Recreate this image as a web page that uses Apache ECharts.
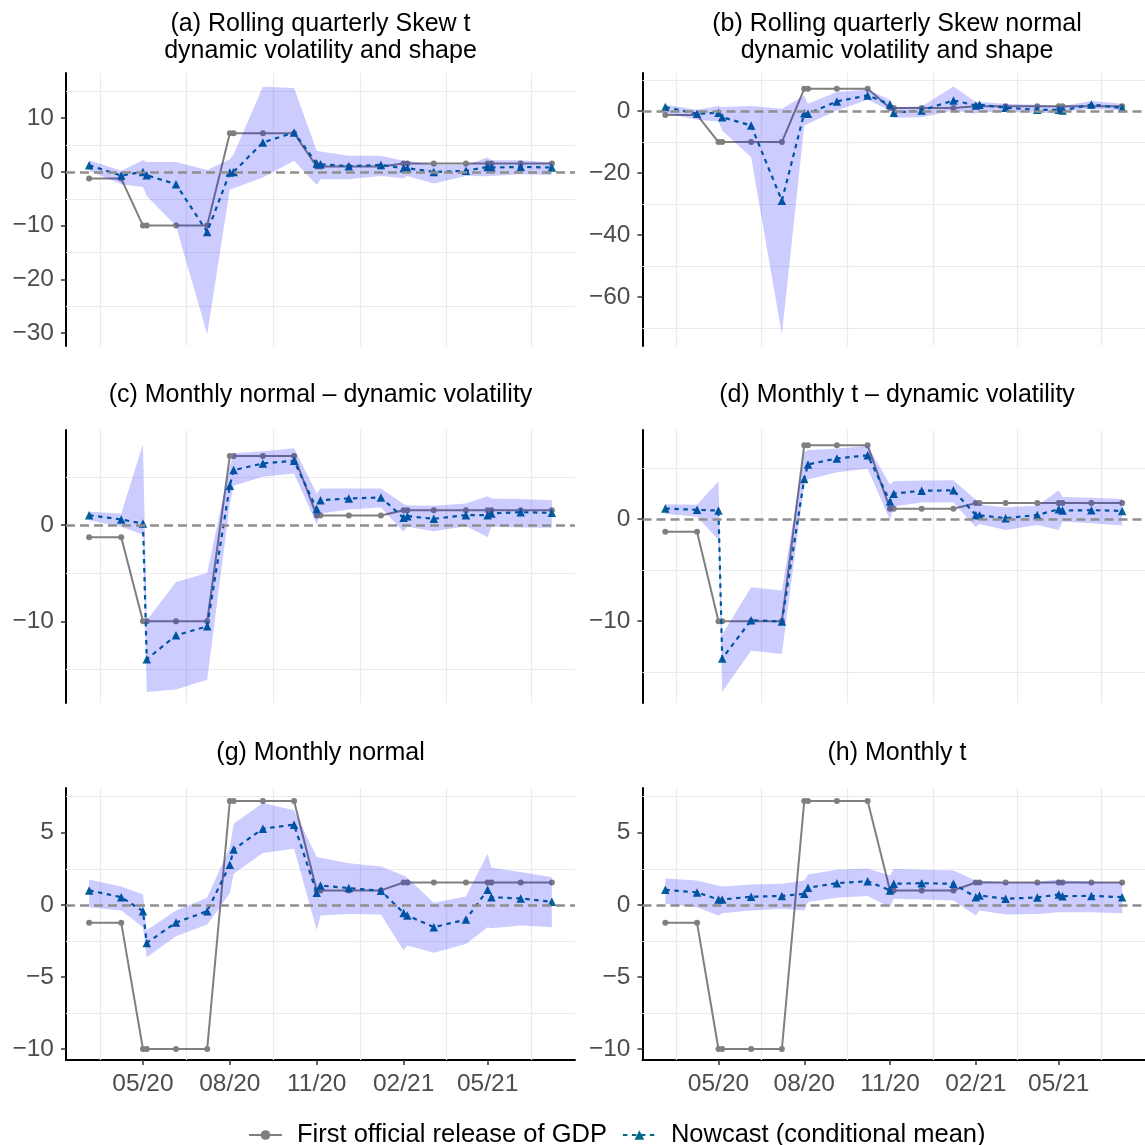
<!DOCTYPE html>
<html><head><meta charset="utf-8">
<script src="https://cdn.jsdelivr.net/npm/echarts@6/dist/echarts.min.js"></script>
<style>html,body{margin:0;padding:0;background:#fff}#c{width:1145px;height:1145px}</style>
</head><body><div id="c"></div>
<script>
// ---------- DATA ----------
const dates = ['2020-03-05','2020-04-08','2020-05-01','2020-05-05','2020-06-05','2020-07-08',
  '2020-08-01','2020-08-05','2020-09-05','2020-10-08','2020-11-01','2020-11-05','2020-12-05','2021-01-08',
  '2021-02-01','2021-02-05','2021-03-05','2021-04-08','2021-05-01','2021-05-05','2021-06-05','2021-07-08'];

const gdp = [-1.25,-1.25,-10,-10,-10,-10,7.2,7.2,7.2,7.2,1.0,1.0,1.0,1.0,1.55,1.55,1.55,1.55,1.55,1.55,1.55,1.55];

const A_mean  = [1.24,-0.68,0.0,-0.62,-2.3,-11.18,-0.12,0.0,5.47,7.33,1.55,1.43,1.06,1.3,0.68,0.68,0.0,0.19,0.93,0.81,0.93,0.81];
const A_lower = [0.19,-2.3,-2.8,-4.47,-10.06,-30.2,-3.23,-3.04,-1.06,2.05,-2.42,-1.37,-1.37,-0.75,-1.18,-0.75,-2.17,-0.75,-0.81,-0.75,-0.43,-0.56];
const A_upper = [2.17,0.19,2.17,1.86,1.86,0.37,2.36,3.3,15.84,15.6,3.91,3.79,2.98,2.98,2.05,2.05,1.3,1.3,2.67,2.17,2.17,1.74];

const B_mean  = [1.29,-0.86,-0.54,-1.94,-4.64,-28.9,-0.65,-0.86,3.13,5.07,2.16,-0.54,0.22,3.45,1.83,2.05,1.08,0.43,0.43,0.22,2.16,0.97];
const B_lower = [-0.65,-2.8,-3.34,-6.26,-14.9,-72.1,-4.64,-4.1,0.22,3.67,0.22,-2.16,-1.94,0.22,-0.86,-0.32,-0.32,-0.54,-0.65,-0.32,0.76,0.22];
const B_upper = [2.05,0.43,1.62,1.29,1.62,0.76,5.07,2.37,6.15,7.01,3.67,1.29,1.51,7.98,2.91,2.91,2.37,2.05,1.62,1.62,3.24,2.37];

const C_mean  = [1.04,0.59,0.17,-13.96,-11.46,-10.52,4.10,5.73,6.42,6.70,1.67,2.60,2.78,2.88,0.76,0.94,0.66,1.04,1.04,1.22,1.35,1.28];
const C_lower = [0.52,-0.17,-1.0,-17.36,-17.1,-16.08,2.2,4.1,5.03,5.38,0.1,1.22,1.63,1.84,-0.69,-0.17,-0.63,-0.1,-1.22,-0.17,-0.24,-0.28];
const C_upper = [1.39,1.22,8.44,-9.9,-5.9,-4.97,6.2,7.47,7.7,7.99,3.3,3.82,3.82,3.82,2.19,2.08,2.01,2.26,3.02,2.78,2.71,2.6];

const D_mean  = [1.02,0.89,0.82,-13.65,-9.9,-10.03,3.91,5.33,5.92,6.22,1.71,2.47,2.76,2.8,0.39,0.36,0.07,0.39,0.95,0.82,0.86,0.79];
const D_lower = [0.49,0.23,-2.07,-16.9,-12.9,-13.2,3.5,3.85,4.57,4.9,-0.1,1.22,1.61,1.61,-0.82,-0.49,-1.09,-0.59,-1.09,-0.26,-0.43,-0.63];
const D_upper = [1.45,1.38,3.68,-11.3,-6.68,-7.0,6.5,6.74,6.88,7.14,3.36,3.68,3.75,3.78,1.88,1.38,1.15,1.28,2.8,2.14,2.07,1.94];

const G_mean  = [1.0,0.53,-0.44,-2.64,-1.23,-0.44,2.78,3.84,5.28,5.56,0.83,1.34,1.16,0.97,-0.56,-0.74,-1.55,-1.02,1.04,0.53,0.44,0.21];
const G_lower = [-0.16,-0.39,-1.55,-3.63,-2.18,-1.37,0.8,2.15,3.59,3.89,-1.74,-0.74,-0.63,-0.67,-3.17,-2.82,-3.33,-2.71,-1.55,-1.62,-1.44,-1.55];
const G_upper = [1.76,1.27,0.72,-1.74,-0.39,0.49,4.0,5.62,7.06,6.55,3.31,3.26,2.89,2.66,2.04,1.88,0.14,0.58,3.54,2.57,2.27,1.92];

const H_mean  = [1.04,0.86,0.37,0.37,0.56,0.62,0.76,1.18,1.5,1.64,1.0,1.46,1.5,1.46,0.53,0.65,0.42,0.51,0.72,0.6,0.62,0.53];
const H_lower = [0.05,-0.16,-0.74,-0.58,-0.39,-0.28,-0.39,0.19,0.49,0.62,-0.16,0.42,0.37,0.3,-0.74,-0.39,-0.67,-0.63,-0.51,-0.51,-0.51,-0.58];
const H_upper = [1.83,1.69,1.32,1.27,1.41,1.46,1.69,2.11,2.43,2.52,2.04,2.48,2.43,2.38,1.69,1.69,1.57,1.57,1.78,1.69,1.62,1.55];

const titles = ['(a) Rolling quarterly Skew t\ndynamic volatility and shape',
  '(b) Rolling quarterly Skew normal\ndynamic volatility and shape',
  '(c) Monthly normal \u2013 dynamic volatility',
  '(d) Monthly t \u2013 dynamic volatility',
  '(g) Monthly normal',
  '(h) Monthly t'];

const xTickDates  = ['2020-05-01','2020-08-01','2020-11-01','2021-02-01','2021-05-01'];
const xMinorDates = ['2020-03-17','2020-06-16','2020-09-16','2020-12-17','2021-03-18','2021-06-16'];

const yTicks = [[-30,-20,-10,0,10],[-60,-40,-20,0],[-10,0],[-10,0],[-10,-5,0,5],[-10,-5,0,5]];
const yMinor = [[-25,-15,-5,5,15],[-70,-50,-30,-10,10],[-15,-5,5],[-15,-5,5],[-7.5,-2.5,2.5,7.5],[-7.5,-2.5,2.5,7.5]];
const yRange = [[-32.4,18.4],[-75.8,12.3],[-18.5,9.9],[-18.0,8.7],[-10.76,8.1],[-10.76,8.1]];

const seriesMean  = [A_mean,B_mean,C_mean,D_mean,G_mean,H_mean];
const seriesLower = [A_lower,B_lower,C_lower,D_lower,G_lower,H_lower];
const seriesUpper = [A_upper,B_upper,C_upper,D_upper,G_upper,H_upper];

const NAME_GDP = 'First official release of GDP';
const NAME_NOW = 'Nowcast (conditional mean)';

// ---------- LAYOUT / STYLE ----------
const FONT = 'Liberation Sans, Arial, sans-serif';
const ts = d => Date.parse(d + 'T00:00:00Z');
const T = dates.map(ts);
const span = T[T.length-1] - T[0];
const xMin = T[0] - 0.05*span, xMax = T[T.length-1] + 0.05*span;
const xTicks = xTickDates.map(ts), xMinor = xMinorDates.map(ts);

const colLeft = [66, 642.5], gridW = 509;
const rowTop = [73, 430, 788], gridH = [273, 273, 272];
const titleTop = [11, 382, 740];

const fmtX = v => { const d = new Date(v); return String(d.getUTCMonth()+1).padStart(2,'0') + '/' + String(d.getUTCFullYear()%100).padStart(2,'0'); };
const fmtY = v => (v < 0 ? '\u2212' + Math.abs(v) : String(v));

function ribbonItem(params, api) {
  if (params.dataIndexInside !== 0) return null;
  const n = params.dataInsideLength, top = [], bot = [];
  for (let k = 0; k < n; k++) {
    const x = api.value(0, k);
    top.push(api.coord([x, api.value(2, k)]));
    bot.push(api.coord([x, api.value(1, k)]));
  }
  return {type: 'polygon', shape: {points: top.concat(bot.reverse())},
    style: {fill: 'rgba(0,0,255,0.2)', stroke: null}, silent: true};
}

const grids = [], xAxes = [], yAxes = [], series = [], titleOpts = [];
for (let i = 0; i < 6; i++) {
  const col = i % 2, row = Math.floor(i / 2), bottom = row === 2;
  grids.push({left: colLeft[col], top: rowTop[row], width: gridW, height: gridH[row], containLabel: false});
  titleOpts.push({text: titles[i], left: colLeft[col] + gridW/2, top: titleTop[row], textAlign: 'center', padding: 0,
    textStyle: {fontSize: 25, fontWeight: 'normal', color: '#000', lineHeight: 27, fontFamily: FONT}});
  xAxes.push({type: 'value', gridIndex: i, min: xMin, max: xMax, scale: true,
    axisLine: {show: bottom, onZero: false, lineStyle: {color: '#000', width: 2}},
    axisTick: {show: bottom, customValues: xTicks, length: 5, lineStyle: {color: '#333', width: 1.5}},
    axisLabel: {show: bottom, customValues: xTicks, formatter: fmtX, fontSize: 24.5, color: '#4d4d4d', margin: 12, fontFamily: FONT},
    splitLine: {show: false}});
  yAxes.push({type: 'value', gridIndex: i, min: yRange[i][0], max: yRange[i][1],
    axisLine: {show: true, onZero: false, lineStyle: {color: '#000', width: 2}},
    axisTick: {show: true, customValues: yTicks[i], length: 5, lineStyle: {color: '#333', width: 1.5}},
    axisLabel: {customValues: yTicks[i], formatter: fmtY, fontSize: 24.5, color: '#4d4d4d', margin: 12, fontFamily: FONT},
    splitLine: {show: false}});

  const lower = seriesLower[i], upper = seriesUpper[i], mean = seriesMean[i];
  // GDP line (zero reference on top as markLine)
  series.push({type: 'line', name: NAME_GDP, xAxisIndex: i, yAxisIndex: i,
    data: T.map((x, k) => [x, gdp[k]]), color: '#7f7f7f', showAllSymbol: true,
    symbol: 'circle', symbolSize: 6, lineStyle: {width: 2, color: '#7f7f7f'}, itemStyle: {color: '#7f7f7f'}, z: 2,
    emphasis: {disabled: true},
    markLine: {silent: true, symbol: ['none','none'], animation: false, z: 6, label: {show: false},
      emphasis: {disabled: true},
      lineStyle: {color: '#8f8f8f', width: 2.5, type: [9, 5]}, data: [{yAxis: 0}]}});
  // Nowcast (carries minor grid lines as markLine at low z)
  series.push({type: 'line', name: NAME_NOW, xAxisIndex: i, yAxisIndex: i,
    data: T.map((x, k) => [x, mean[k]]), color: '#00688b', showAllSymbol: true,
    symbol: 'triangle', symbolSize: 8.5, lineStyle: {width: 2.2, type: [4.5, 4.5], color: '#00688b'},
    itemStyle: {color: '#00688b'}, z: 3, emphasis: {disabled: true},
    markLine: {silent: true, symbol: ['none','none'], animation: false, z: 1, label: {show: false},
      emphasis: {disabled: true},
      lineStyle: {color: '#ebebeb', width: 1.2, type: 'solid'},
      data: xMinor.map(v => ({xAxis: v})).concat(yMinor[i].map(v => ({yAxis: v})))}});
  // Ribbon (interval) drawn on top with transparency
  series.push({type: 'custom', xAxisIndex: i, yAxisIndex: i, renderItem: ribbonItem,
    data: T.map((x, k) => [x, lower[k], upper[k]]), encode: {x: 0, y: [1, 2]}, z: 4, silent: true});
}

const chart = echarts.init(document.getElementById('c'), null, {renderer: 'canvas'});
chart.setOption({
  animation: false,
  backgroundColor: '#fff',
  title: titleOpts,
  grid: grids,
  xAxis: xAxes,
  yAxis: yAxes,
  legend: {data: [NAME_GDP, NAME_NOW], left: 243, top: 1117, itemWidth: 33, itemHeight: 12, itemGap: 15,
    textStyle: {fontSize: 25.5, color: '#000', fontFamily: FONT, padding: [0, 0, 0, 10]}},
  series: series
});
</script></body></html>
